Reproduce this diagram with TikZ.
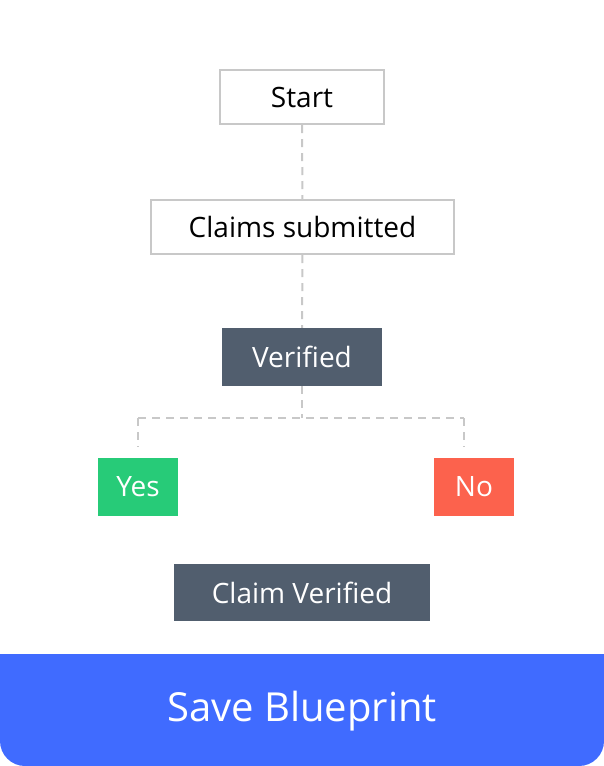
\documentclass[tikz,border=0pt]{standalone}
\usepackage{fontspec}
\setmainfont{Open Sans}
\usepackage{xcolor}
\definecolor{myframe}{HTML}{C8C8C8}
\definecolor{myslate}{HTML}{515E6E}
\definecolor{mygreen}{HTML}{27CB78}
\definecolor{myred}{HTML}{FC624D}
\definecolor{myblue}{HTML}{406BFF}

\begin{document}
\begin{tikzpicture}[x=1pt, y=-1pt,
                    line cap=butt, line join=miter,
                    lightbox/.style={draw=myframe, line width=2pt, fill=white, text=black,
                                     inner sep=0pt, font=\fontsize{28}{30}\selectfont},
                    darkbox/.style={fill=myslate, text=white, inner sep=0pt,
                                    font=\fontsize{28}{30}\selectfont},
                    link/.style={draw=myframe, line width=2pt, dash pattern=on 8pt off 6pt}]
  \useasboundingbox (0,0) rectangle (604,766);

  % BOXES
  \node[lightbox, minimum width=164, minimum height=54] (start)  at (302,97)    {Start};
  \node[lightbox, minimum width=303, minimum height=54] (claims) at (302.5,227) {Claims submitted};
  \node[darkbox,  minimum width=160, minimum height=58] (verified) at (302,357) {Verified};
  \node[darkbox, fill=mygreen, minimum width=80, minimum height=58] (yes) at (138,487) {Yes};
  \node[darkbox, fill=myred,   minimum width=80, minimum height=58] (no)  at (474,487) {No};
  \node[darkbox,  minimum width=256, minimum height=57] (claimok) at (302,592.5) {Claim Verified};

  % SPLIT POINTS
  \coordinate (vsplit) at (302,418);
  \coordinate (yesc)   at (138,418);
  \coordinate (noc)    at (464,418);

  % CONNECTORS
  \draw[link] (start) -- (claims);
  \draw[link] (claims) -- (verified);
  \draw[link] (verified) -- (vsplit);
  \draw[link] (yesc) -- (noc);
  \draw[link, shorten >=11pt] (yesc) -- (yes);
  \draw[link, shorten >=11pt] (noc) -- (noc |- no.north);

  % SAVE BUTTON
  \fill[myblue, rounded corners=25pt] (0,654) rectangle (604,766);
  \fill[myblue] (0,654) rectangle (604,700);
  \node[text=white, font=\fontsize{40}{44}\selectfont] (save) at (302,711) {Save Blueprint};
\end{tikzpicture}
\end{document}
